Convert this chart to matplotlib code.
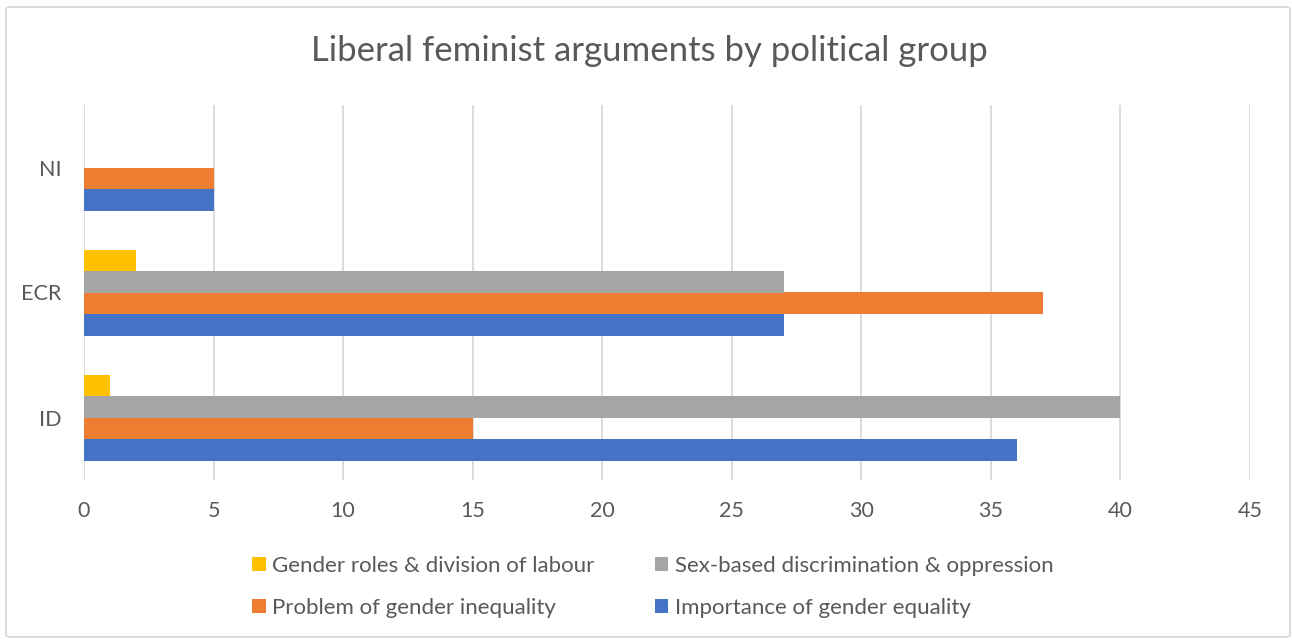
import matplotlib.pyplot as plt
import numpy as np
from matplotlib.patches import FancyBboxPatch

plt.rcParams['font.family'] = ['Lato', 'DejaVu Sans']

groups = ['ID', 'ECR', 'NI']
series = ['Importance of gender equality', 'Problem of gender inequality',
          'Sex-based discrimination & oppression', 'Gender roles & division of labour']
importance = [36, 27, 5]
problem = [15, 37, 5]
sex_based = [40, 27, 0]
roles = [1, 2, 0]
colors = ['#4472C4', '#ED7D31', '#A5A5A5', '#FFC000']
text_col = '#595959'

fig = plt.figure(figsize=(12.92, 6.42), dpi=100)
W, H = 1292, 642
ax = fig.add_axes([84 / W, 1 - 480 / H, (1250 - 84) / W, (480 - 105) / H])

# frame around the chart
fig.patches.append(FancyBboxPatch((6 / W, 5 / H), 1284 / W, 630 / H,
                                  boxstyle='round,pad=0,rounding_size=0.004',
                                  transform=fig.transFigure, fill=False,
                                  edgecolor='#D9D9D9', linewidth=1.3))

y = np.arange(len(groups))
h = 0.172
data = [importance, problem, sex_based, roles]
bars = []
for i, (vals, c, lab) in enumerate(zip(data, colors, series)):
    b = ax.barh(y + (i - 1.5) * h, vals, height=h, color=c, label=lab, zorder=3)
    bars.append(b)

ax.set_xlim(0, 45)
ax.set_ylim(-0.5, 2.5)
ax.set_xticks(range(0, 46, 5))
ax.set_yticks(y)
ax.set_yticklabels(groups)
ax.grid(axis='x', color='#D9D9D9', linewidth=1.3, zorder=0)
for s in ax.spines.values():
    s.set_visible(False)
ax.tick_params(length=0, labelsize=15.5, colors=text_col)
ax.tick_params(axis='x', pad=15)
ax.tick_params(axis='y', pad=16)

fig.text(649 / W, 1 - 51 / H, 'Liberal feminist arguments by political group',
         ha='center', va='center', fontsize=25, color=text_col)

order = [3, 1, 2, 0]
leg = fig.legend([bars[i] for i in order], [series[i] for i in order],
                 ncol=2, loc='center', bbox_to_anchor=(653 / W, 1 - 587 / H),
                 frameon=False, fontsize=16, labelcolor=text_col,
                 handlelength=0.6, handleheight=0.6, handletextpad=0.3,
                 columnspacing=2.7, labelspacing=1.0)

fig.savefig('out.png', dpi=100)
